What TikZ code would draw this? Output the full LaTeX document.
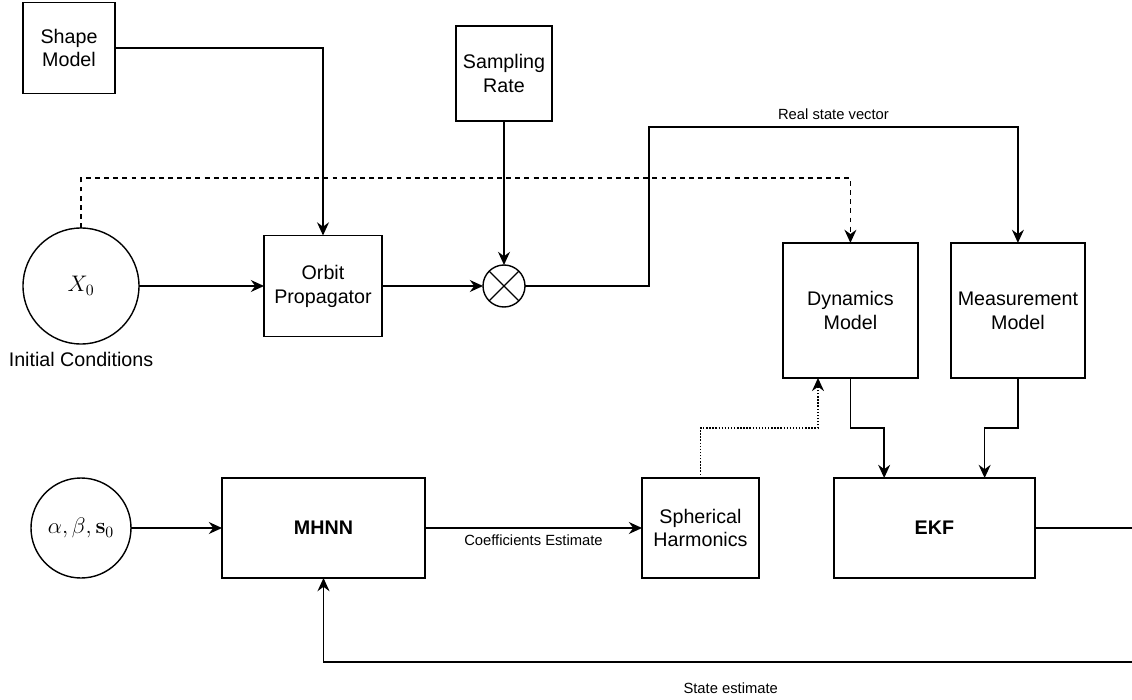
\documentclass[tikz,border=0pt]{standalone}
\usepackage{fix-cm}
\usepackage[no-math]{fontspec}
\setmainfont{Liberation Sans}
\usepackage{amsmath}
\usepackage{tikz}
\usetikzlibrary{shapes,arrows.meta,positioning,calc}

\newcommand{\mainsize}{\fontsize{14}{17}\selectfont}
\newcommand{\mathsize}{\fontsize{16}{19}\selectfont}
\newcommand{\lblsize}{\fontsize{10.5}{12}\selectfont}

\begin{document}
\begin{tikzpicture}[
    box/.style={rectangle, draw, line width=1pt, align=center, font=\mainsize, outer sep=0pt},
    ball/.style={circle, draw, line width=1pt, font=\mathsize, inner sep=0pt, outer sep=0pt},
    arrow/.style={-{Stealth[length=3.3mm, width=3mm, inset=1.1mm]}, line width=1pt},
    dasharrow/.style={arrow, dash pattern=on 3.5pt off 3pt},
    dotarrow/.style={arrow, dash pattern=on 1pt off 1.2pt},
    lbl/.style={font=\lblsize}
]
    \useasboundingbox (0,0) rectangle (28.3,-17.5);

    % Simulated truth
    \node[ball, minimum size=2.9cm] (x0) at (2.025,-7.15) {$X_0$};
    \node[below=0.08cm of x0, font=\mainsize] (ic) {Initial Conditions};
    \node[box, right=3.125cm of x0, minimum width=2.95cm, minimum height=2.525cm] (orbit) {Orbit\\Propagator};
    \node[box, minimum width=2.3cm, minimum height=2.275cm] (shape) at (1.725,-1.2) {Shape\\Model};
    \node[ball, minimum size=1.05cm, right=2.525cm of orbit] (mult) {};
    \node[box, above=3.6cm of mult, minimum width=2.4cm, minimum height=2.375cm] (rate) {Sampling\\Rate};

    % Filter models
    \node[box, minimum width=3.375cm, minimum height=3.375cm] (dyn) at (21.26,-7.76) {Dynamics\\Model};
    \node[box, right=0.825cm of dyn, minimum width=3.35cm, minimum height=3.375cm] (meas) {Measurement\\Model};
    \node[box, minimum width=5.025cm, minimum height=2.5cm, font=\mainsize\bfseries] (ekf) at (23.36,-13.2) {EKF};

    % Network chain
    \node[ball, minimum size=2.5cm] (par) at (2.025,-13.2) {$\alpha,\beta,\mathbf{s}_0$};
    \node[box, right=2.275cm of par, minimum width=5.075cm, minimum height=2.5cm, font=\mainsize\bfseries] (mhnn) {MHNN};
    \node[box, right=5.425cm of mhnn, minimum width=2.925cm, minimum height=2.5cm] (sph) {Spherical\\Harmonics};

    % Arrows
    \draw[arrow] (shape.east) -| (orbit.north);
    \draw[dasharrow] (x0.north) -- ++(0,1.25) -| (dyn.north);
    \draw[arrow] (x0) -- (orbit);
    \draw[arrow] (orbit) -- (mult);
    \draw[arrow] (rate) -- (mult);
    \draw[line width=0.8pt] (mult.north west) -- (mult.south east) (mult.north east) -- (mult.south west);
    \draw[arrow] (mult.east) -- ++(3.1,0) |- ($(meas.north)+(0,2.9)$)
        node[lbl, pos=0.75, above=1.5pt] {Real state vector} -- (meas.north);
    \draw[arrow] (dyn.south) -- ++(0,-1.25) -| ($(ekf.north west)!0.25!(ekf.north east)$);
    \draw[arrow] (meas.south) -- ++(0,-1.25) -| ($(ekf.north west)!0.75!(ekf.north east)$);
    \draw[arrow] (par) -- (mhnn);
    \draw[arrow] (mhnn) -- node[lbl, below=1pt] {Coefficients Estimate} (sph);
    \draw[dotarrow] (sph.north) -- ++(0,1.25) -| ($(dyn.south west)!0.26!(dyn.south east)$);
    \draw[arrow] (ekf.east) -- ++(2.575,0) -- ++(0,-3.35) -| (mhnn.south)
        node[lbl, pos=0.25, below=0.38cm] {State estimate};
\end{tikzpicture}
\end{document}
